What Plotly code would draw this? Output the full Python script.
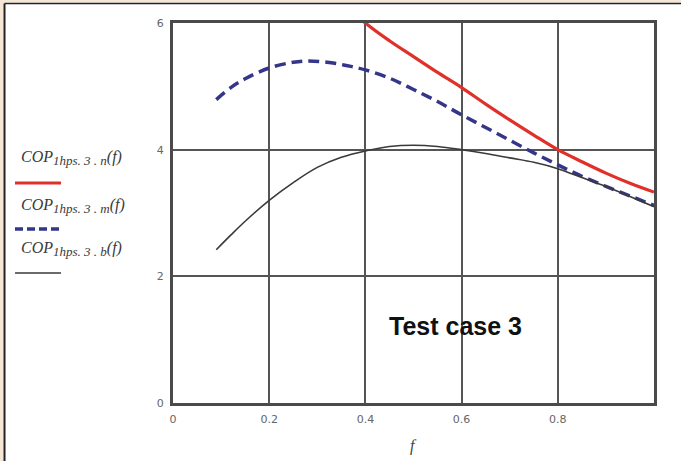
import plotly.graph_objects as go

# ---- data ----
f_n = [0.35, 0.40, 0.45, 0.50, 0.55, 0.60, 0.65, 0.70, 0.75, 0.80, 0.85, 0.90, 0.95, 1.00]
cop_n = [6.35, 6.00, 5.72, 5.47, 5.22, 4.98, 4.72, 4.47, 4.23, 4.00, 3.81, 3.63, 3.47, 3.33]

f_m = [0.09, 0.12, 0.15, 0.20, 0.25, 0.28, 0.32, 0.36, 0.40, 0.45, 0.50, 0.55, 0.60, 0.65, 0.70, 0.75, 0.80, 0.85, 0.90, 0.95, 1.00]
cop_m = [4.79, 4.98, 5.12, 5.29, 5.38, 5.40, 5.38, 5.33, 5.26, 5.13, 4.95, 4.76, 4.55, 4.35, 4.15, 3.95, 3.76, 3.58, 3.42, 3.27, 3.12]

f_b = [0.09, 0.12, 0.15, 0.20, 0.25, 0.30, 0.35, 0.40, 0.45, 0.50, 0.55, 0.60, 0.65, 0.70, 0.75, 0.80, 0.85, 0.90, 0.95, 1.00]
cop_b = [2.42, 2.65, 2.87, 3.20, 3.48, 3.72, 3.88, 3.98, 4.05, 4.07, 4.05, 4.00, 3.94, 3.87, 3.80, 3.70, 3.56, 3.42, 3.26, 3.10]

x_ticks = [0, 0.2, 0.4, 0.6, 0.8]
x_tick_labels = ["0", "0.2", "0.4", "0.6", "0.8"]
y_ticks = [0, 2, 4, 6]
y_tick_labels = ["0", "2", "4", "6"]

legend_subs = ["1hps. 3 . n", "1hps. 3 . m", "1hps. 3 . b"]

RED = "#e0302a"
BLUE = "#35358a"
BLACK = "#3a3a3a"

W, H = 681, 461
L, R, T, B = 173, 654, 23, 403


def px(x):
    return (x - L) / (R - L)


def py(y):
    return (B - y) / (B - T)


fig = go.Figure()
fig.add_trace(go.Scatter(x=f_n, y=cop_n, mode="lines",
                         line=dict(color=RED, width=3.2, shape="spline"), showlegend=False))
fig.add_trace(go.Scatter(x=f_m, y=cop_m, mode="lines",
                         line=dict(color=BLUE, width=3.5, dash="11px,6px", shape="spline"), showlegend=False))
fig.add_trace(go.Scatter(x=f_b, y=cop_b, mode="lines",
                         line=dict(color=BLACK, width=1.6, shape="spline"), showlegend=False))

shapes = []
# beige frame strips and dark inner border
shapes.append(dict(type="rect", xref="paper", yref="paper",
                   x0=px(-5), x1=px(W + 5), y0=py(-5), y1=py(2.5),
                   fillcolor="#f6e6d6", line_width=0, layer="below"))
shapes.append(dict(type="rect", xref="paper", yref="paper",
                   x0=px(-5), x1=px(3.5), y0=py(-5), y1=py(H + 5),
                   fillcolor="#f6e6d6", line_width=0, layer="below"))
shapes.append(dict(type="line", xref="paper", yref="paper",
                   x0=px(4.5), x1=px(W + 5), y0=py(3.5), y1=py(3.5),
                   line=dict(color="#222222", width=1.5), layer="below"))
shapes.append(dict(type="line", xref="paper", yref="paper",
                   x0=px(4.5), x1=px(4.5), y0=py(3.5), y1=py(H + 5),
                   line=dict(color="#222222", width=2), layer="below"))

# legend samples
leg_styles = [dict(color=RED, width=3.2),
              dict(color=BLUE, width=3.5, dash="8px,4px"),
              dict(color=BLACK, width=1.6)]
leg_line_y = [183, 229, 273]
leg_text_y = [158, 206, 249]
annotations = []
for sub, st, ly, ty in zip(legend_subs, leg_styles, leg_line_y, leg_text_y):
    shapes.append(dict(type="line", xref="paper", yref="paper",
                       x0=px(15), x1=px(61), y0=py(ly), y1=py(ly), line=st))
    lab = ("<i>COP<sub><span style='font-size:13px'>" + sub +
           "</span></sub>(<i>f</i>)</i>")
    annotations.append(dict(xref="paper", yref="paper", x=px(19), y=py(ty),
                            xanchor="left", yanchor="middle", showarrow=False,
                            text=lab,
                            font=dict(family="Liberation Serif", size=16, color="#3a3a3a")))

annotations.append(dict(xref="paper", yref="paper", x=px(413), y=py(446),
                        xanchor="center", yanchor="middle", showarrow=False,
                        text="<i>f</i>",
                        font=dict(family="Liberation Serif", size=16, color="#444444")))
annotations.append(dict(x=0.587, y=1.22, xref="x", yref="y",
                        xanchor="center", yanchor="middle", showarrow=False,
                        text="<b>Test case 3</b>",
                        font=dict(family="Liberation Sans", size=25, color="#111111")))

fig.update_layout(
    width=W, height=H,
    margin=dict(l=L, r=W - R, t=T, b=H - B, pad=0),
    paper_bgcolor="white", plot_bgcolor="white",
    shapes=shapes, annotations=annotations,
    showlegend=False,
)
fig.update_xaxes(range=[0, 1], tickvals=x_ticks, ticktext=x_tick_labels,
                 showgrid=True, gridcolor="#555555", gridwidth=2,
                 showline=True, linecolor="#4a4a4a", linewidth=3, mirror=True,
                 zeroline=False, ticks="", ticklabelstandoff=4,
                 tickfont=dict(family="DejaVu Sans", size=11, color="#666666"))
fig.update_yaxes(range=[0, 6], tickvals=y_ticks, ticktext=y_tick_labels,
                 showgrid=True, gridcolor="#555555", gridwidth=2,
                 showline=True, linecolor="#4a4a4a", linewidth=3, mirror=True,
                 zeroline=False, ticks="", ticklabelstandoff=4,
                 tickfont=dict(family="DejaVu Sans", size=11, color="#666666"))

fig.write_html("out.html")
